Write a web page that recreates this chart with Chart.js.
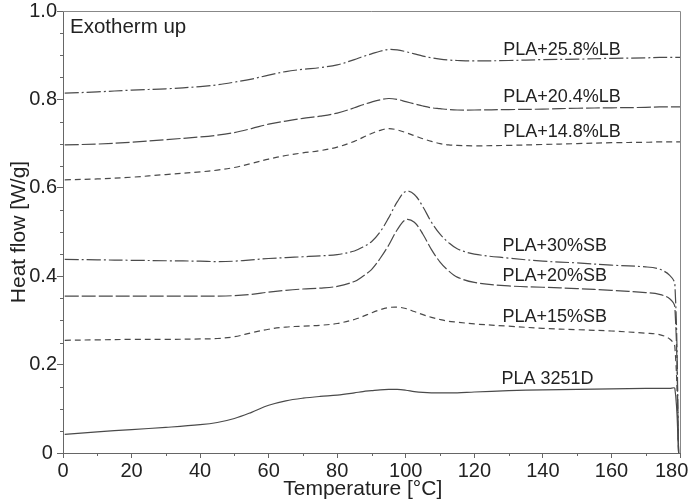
<!DOCTYPE html>
<html>
<head>
<meta charset="utf-8">
<script src="https://cdn.jsdelivr.net/npm/chart.js@4.4.0/dist/chart.umd.min.js"></script>
<style>
  body { margin: 0; background: #fff; }
  #wrap { width: 690px; height: 502px; }
</style>
</head>
<body>
<div id="wrap"><canvas id="dsc" width="690" height="502"></canvas></div>
<script>
// temperature grid (°C) shared by all curves
const temps = [0.5, 10, 20, 30, 40, 45, 50, 55, 60, 65, 70, 75, 80, 85, 87.5, 90, 92.5, 95, 97.5, 100,
  102.5, 105, 107.5, 110, 112.5, 115, 120, 130, 140, 150, 160, 170, 174, 177, 178.5, 179.6, 180];

// heat flow [W/g]
const pla3251d = [0.042, 0.048, 0.053, 0.058, 0.064, 0.069, 0.078, 0.092, 0.108, 0.118, 0.124, 0.128, 0.131, 0.136, 0.139, 0.141, 0.143, 0.144, 0.144, 0.142,
  0.139, 0.137, 0.136, 0.136, 0.136, 0.136, 0.138, 0.141, 0.143, 0.144, 0.145, 0.146, 0.146, 0.146, 0.146, 0, null];
const sb15 = [0.255, 0.256, 0.257, 0.257, 0.258, 0.259, 0.263, 0.272, 0.280, 0.285, 0.287, 0.289, 0.293, 0.302, 0.309, 0.317, 0.324, 0.329, 0.330, 0.327,
  0.320, 0.313, 0.307, 0.302, 0.298, 0.296, 0.292, 0.287, 0.282, 0.279, 0.276, 0.271, 0.268, 0.258, 0.240, 0, null];
const sb20 = [0.355, 0.355, 0.355, 0.355, 0.355, 0.355, 0.356, 0.359, 0.364, 0.368, 0.371, 0.373, 0.377, 0.388, 0.400, 0.415, 0.440, 0.470, 0.505, 0.528,
  0.522, 0.495, 0.460, 0.432, 0.412, 0.398, 0.386, 0.378, 0.375, 0.372, 0.368, 0.363, 0.359, 0.349, 0.330, 0, null];
const sb30 = [0.438, 0.437, 0.436, 0.435, 0.434, 0.433, 0.434, 0.437, 0.440, 0.442, 0.444, 0.446, 0.449, 0.457, 0.466, 0.478, 0.500, 0.532, 0.568, 0.592,
  0.585, 0.557, 0.522, 0.495, 0.476, 0.462, 0.450, 0.441, 0.434, 0.430, 0.425, 0.421, 0.416, 0.402, 0.382, 0, null];
const lb148 = [0.618, 0.620, 0.624, 0.630, 0.636, 0.640, 0.646, 0.655, 0.665, 0.673, 0.679, 0.684, 0.692, 0.705, 0.714, 0.723, 0.730, 0.734, 0.731, 0.725,
  0.718, 0.711, 0.705, 0.700, 0.697, 0.696, 0.695, 0.696, 0.698, 0.700, 0.702, 0.703, 0.704, 0.704, 0.704, 0.704, 0.704];
const lb204 = [0.697, 0.699, 0.703, 0.709, 0.715, 0.719, 0.725, 0.734, 0.744, 0.751, 0.757, 0.762, 0.769, 0.781, 0.788, 0.794, 0.799, 0.802, 0.800, 0.795,
  0.790, 0.785, 0.781, 0.779, 0.777, 0.776, 0.776, 0.777, 0.778, 0.780, 0.781, 0.782, 0.783, 0.783, 0.783, 0.783, 0.783];
const lb258 = [0.814, 0.817, 0.821, 0.824, 0.829, 0.833, 0.839, 0.846, 0.855, 0.863, 0.868, 0.872, 0.878, 0.890, 0.897, 0.903, 0.909, 0.913, 0.912, 0.908,
  0.903, 0.898, 0.894, 0.891, 0.889, 0.888, 0.887, 0.888, 0.890, 0.891, 0.893, 0.894, 0.895, 0.895, 0.895, 0.895, 0.895];

// curve labels: text, temperature of left edge, heat flow at text centre
const labelText = ['PLA+25.8%LB', 'PLA+20.4%LB', 'PLA+14.8%LB', 'PLA+30%SB', 'PLA+20%SB', 'PLA+15%SB', 'PLA 3251D'];
const labelT = [128.4, 128.4, 128.4, 128.2, 128.2, 128.2, 127.9];
const labelHF = [0.912, 0.805, 0.726, 0.468, 0.400, 0.308, 0.168];

const xTicks = [0, 20, 40, 60, 80, 100, 120, 140, 160, 180];

const pts = arr => temps.map((t, i) => ({x: t, y: arr[i]}));
const INK = '#4a4a4a';
const FONT = '"Liberation Sans", Arial, sans-serif';

function series(label, arr, dash) {
  return {label, data: pts(arr), borderColor: INK, borderWidth: 1.2, borderDash: dash,
    pointRadius: 0, tension: 0.35, fill: false, spanGaps: false};
}

const extras = {
  id: 'extras',
  afterDraw(chart) {
    const {ctx, chartArea: a, scales: {x, y}} = chart;
    ctx.save();
    // top / right frame
    ctx.strokeStyle = '#888';
    ctx.lineWidth = 1;
    ctx.beginPath();
    ctx.moveTo(a.left, a.top + 0.5);
    ctx.lineTo(a.right + 0.5, a.top + 0.5);
    ctx.lineTo(a.right + 0.5, a.bottom);
    ctx.stroke();
    // minor ticks
    ctx.strokeStyle = '#666';
    ctx.beginPath();
    for (let t = 10; t < 180; t += 20) {
      const px = Math.round(x.getPixelForValue(t)) + 0.5;
      ctx.moveTo(px, a.bottom); ctx.lineTo(px, a.bottom + 3);
    }
    for (let k = 1; k < 20; k++) {
      if (k % 4 === 0) continue;
      const py = Math.round(y.getPixelForValue(k * 0.05)) + 0.5;
      ctx.moveTo(a.left, py); ctx.lineTo(a.left - 3, py);
    }
    ctx.stroke();
    // annotations
    ctx.fillStyle = '#222';
    ctx.textBaseline = 'middle';
    ctx.textAlign = 'left';
    ctx.font = '20.5px ' + FONT;
    ctx.fillText('Exotherm up', a.left + 7, a.top + 16);
    ctx.font = '18px ' + FONT;
    labelText.forEach((s, i) => {
      ctx.fillText(s, x.getPixelForValue(labelT[i]), y.getPixelForValue(labelHF[i]));
    });
    ctx.restore();
  }
};

new Chart(document.getElementById('dsc'), {
  type: 'line',
  data: {
    datasets: [
      series('PLA+25.8%LB', lb258, [14, 3, 2, 3]),
      series('PLA+20.4%LB', lb204, [14, 3]),
      series('PLA+14.8%LB', lb148, [6, 4]),
      series('PLA+30%SB', sb30, [14, 3, 2, 3]),
      series('PLA+20%SB', sb20, [14, 3]),
      series('PLA+15%SB', sb15, [6, 4]),
      series('PLA 3251D', pla3251d, [])
    ]
  },
  options: {
    responsive: false,
    animation: false,
    layout: {padding: {top: 11, right: 10, left: 0, bottom: 0}},
    plugins: {legend: {display: false}, tooltip: {enabled: false}},
    scales: {
      x: {
        type: 'linear', min: 0, max: 180,
        afterBuildTicks: s => { s.ticks = xTicks.map(v => ({value: v})); },
        afterFit: s => { s.height = 49; s.paddingLeft = 0; s.paddingRight = 0; },
        border: {color: '#666', width: 1},
        grid: {drawOnChartArea: false, tickLength: 5, color: '#666'},
        ticks: {color: '#222', font: {family: FONT, size: 20}, padding: 1, maxRotation: 0, autoSkip: false,
          callback: v => v === 180 ? '180\u00a0\u00a0\u00a0' : String(v)},
        title: {display: true, text: 'Temperature [°C]\u00a0\u00a0\u00a0', color: '#222', font: {family: FONT, size: 21}, padding: {top: 0, bottom: 0}}
      },
      y: {
        min: 0, max: 1,
        afterFit: s => { s.width = 63; s.paddingTop = 0; s.paddingBottom = 0; },
        border: {color: '#666', width: 1},
        grid: {drawOnChartArea: false, tickLength: 6, color: '#666'},
        ticks: {stepSize: 0.2, color: '#222', font: {family: FONT, size: 20}, padding: 0,
          callback: v => v === 0 ? '0\u2009' : v.toFixed(1)},
        title: {display: true, text: 'Heat flow [W/g]', color: '#222', font: {family: FONT, size: 21}, padding: {top: 7, bottom: 0}}
      }
    }
  },
  plugins: [extras]
});
</script>
</body>
</html>
